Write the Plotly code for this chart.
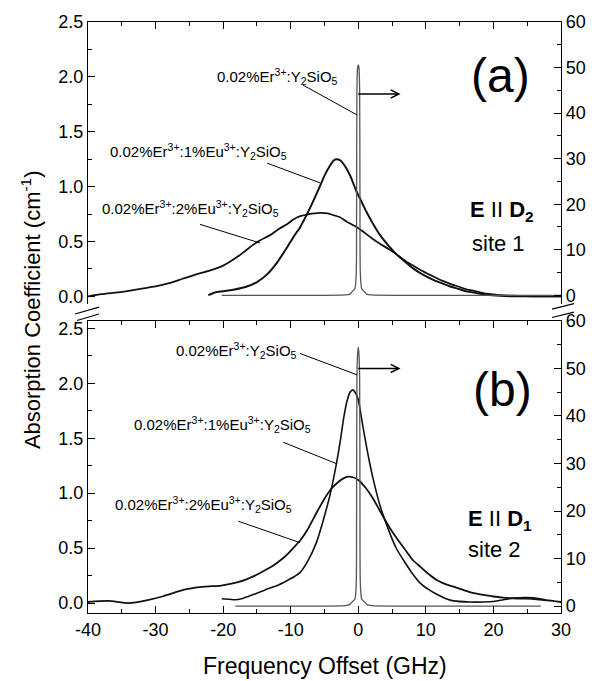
import plotly.graph_objects as go

# ---------------- data ----------------
# frequency offset (GHz) / absorption coefficient (cm^-1) for the Eu co-doped samples,
# narrow-line 0.02%Er:Y2SiO5 reference plotted against the right-hand axis.

# panel (a): E || D2, site 1
a_er_x = [-20.2, -15, -10, -5, -2, -1.3, -0.9, -0.5, -0.3, -0.25, -0.2, -0.1, 0, 0.1, 0.2, 0.25, 0.3, 0.5, 0.9, 1.3, 2, 5, 10, 15, 20, 25, 30]
a_er_y = [0, 0, 0, 0, 0.1, 0.2, 0.8, 1.5, 5, 20, 45, 50, 50.6, 50, 45, 20, 5, 1.5, 0.8, 0.2, 0.1, 0, 0, 0, 0, 0, 0]

a_eu1_x = [-22.2, -21, -19.5, -18.5, -16.5, -15, -13.5, -12, -10.5, -9.5, -8.6, -7.5, -6.5, -5.7, -5, -4.2, -3.6, -3.2, -2.7, -2, -1.2, -0.3, 0.5, 1.2, 2.2, 3.2, 4.5, 5.7, 7, 8.1, 9.5, 11.1, 12.5, 13.6, 15, 16, 17.5, 19, 21, 23, 26, 30]
a_eu1_y = [0.01, 0.04, 0.05, 0.06, 0.09, 0.13, 0.2, 0.31, 0.45, 0.55, 0.63, 0.76, 0.89, 1.0, 1.1, 1.19, 1.24, 1.25, 1.24, 1.19, 1.1, 0.96, 0.86, 0.77, 0.66, 0.56, 0.46, 0.38, 0.31, 0.255, 0.2, 0.15, 0.115, 0.09, 0.065, 0.045, 0.03, 0.015, 0.005, 0.0, 0.0, 0.0]

a_eu2_x = [-40, -38, -35, -32, -30, -28, -26, -24, -22, -21, -20, -19, -18, -17, -16, -14.5, -13, -11.6, -10.5, -9.6, -8.6, -7.6, -6.5, -5.7, -4.5, -3.7, -2.7, -1.7, -0.5, 0.7, 2, 3.2, 4.5, 5.7, 7, 8.1, 9.5, 11.1, 12.5, 13.6, 15, 16, 17.5, 18.5, 20, 21, 23, 26, 30]
a_eu2_y = [0.0, 0.02, 0.04, 0.07, 0.09, 0.12, 0.16, 0.20, 0.235, 0.255, 0.28, 0.315, 0.355, 0.40, 0.45, 0.51, 0.56, 0.62, 0.66, 0.70, 0.73, 0.745, 0.755, 0.76, 0.755, 0.74, 0.72, 0.68, 0.64, 0.59, 0.53, 0.48, 0.43, 0.38, 0.32, 0.28, 0.23, 0.18, 0.14, 0.114, 0.085, 0.063, 0.045, 0.03, 0.018, 0.01, 0.005, 0.0, 0.0]

# panel (b): E || D1, site 2
b_er_x = [-18.2, -15, -10, -5, -2, -1.3, -0.9, -0.5, -0.3, -0.25, -0.2, -0.1, 0, 0.1, 0.2, 0.25, 0.3, 0.5, 0.9, 1.3, 2, 5, 10, 15, 20, 25, 27]
b_er_y = [0, 0, 0, 0, 0.1, 0.3, 0.9, 1.5, 5, 20, 48, 53, 54.5, 53, 48, 20, 5, 1.5, 0.9, 0.3, 0.1, 0, 0, 0, 0, 0, 0]

b_eu1_x = [-20.2, -19, -18.3, -17, -16.3, -15, -13.8, -12, -10.4, -9.5, -8.6, -7.5, -6.2, -5.2, -4.2, -3.2, -2.6, -2.2, -1.7, -1.2, -0.8, -0.4, 0, 0.25, 0.7, 1.2, 1.7, 2.2, 3.2, 4.7, 5.7, 6.7, 8, 9.2, 10.5, 11.6, 13, 14.1, 16.5, 18.5, 20, 21.5, 22.9, 24.9, 26.9, 27.7]
b_eu1_y = [0.04, 0.035, 0.03, 0.045, 0.06, 0.09, 0.12, 0.16, 0.21, 0.24, 0.28, 0.38, 0.55, 0.75, 0.98, 1.28, 1.5, 1.67, 1.83, 1.92, 1.94, 1.91, 1.85, 1.77, 1.6, 1.43, 1.27, 1.13, 0.89, 0.63, 0.49, 0.39, 0.27, 0.18, 0.12, 0.08, 0.04, 0.02, 0.01, 0.01, 0.015, 0.03, 0.045, 0.05, 0.04, 0.03]

b_eu2_x = [-40, -37, -34, -31, -29, -28, -26.5, -25.2, -22.7, -20.3, -17.8, -15.3, -13.5, -12.4, -11.1, -10.4, -9.5, -8.6, -7.5, -6.2, -5, -4, -3, -2.2, -1.5, -0.8, 0, 1.2, 2.2, 3.2, 4.5, 5.7, 7, 8.1, 9.2, 10.5, 11.6, 13, 14.1, 15.5, 16.5, 18, 19, 20, 21.4, 22.5, 23.9, 25, 26.4, 28.8, 30]
b_eu2_y = [0.01, 0.02, 0.0, 0.03, 0.06, 0.08, 0.11, 0.13, 0.15, 0.16, 0.19, 0.25, 0.31, 0.35, 0.41, 0.45, 0.51, 0.57, 0.67, 0.82, 0.95, 1.04, 1.10, 1.135, 1.15, 1.145, 1.12, 1.04, 0.95, 0.84, 0.70, 0.59, 0.48, 0.39, 0.33, 0.26, 0.21, 0.17, 0.15, 0.12, 0.10, 0.08, 0.07, 0.06, 0.05, 0.045, 0.04, 0.04, 0.035, 0.02, 0.01]

# tick values and labels
x_ticks = [-40, -30, -20, -10, 0, 10, 20, 30]
x_tick_labels = ["-40", "-30", "-20", "-10", "0", "10", "20", "30"]

# arrow levels on the right-hand axis, pointing to the scale of the narrow line
a_arrow_level = 44.2
b_arrow_level = 50.0

FONT = "Liberation Sans, Arial, sans-serif"
BLACK = "#000000"

fig = go.Figure()

def add_curve(x, y, xa, ya, width=1.8, color="#111111"):
    fig.add_trace(go.Scatter(x=x, y=y, xaxis=xa, yaxis=ya, mode="lines",
                             line=dict(color=color, width=width, shape="spline", smoothing=0.6),
                             showlegend=False, hoverinfo="skip"))

add_curve(a_eu2_x, a_eu2_y, "x", "y")
add_curve(a_eu1_x, a_eu1_y, "x", "y", width=2.0)
add_curve(a_er_x, a_er_y, "x", "y3", width=1.3, color="#555555")
add_curve(b_eu2_x, b_eu2_y, "x2", "y2")
add_curve(b_eu1_x, b_eu1_y, "x2", "y2", width=1.6)
add_curve(b_er_x, b_er_y, "x2", "y4", width=1.3, color="#555555")

tickfont = dict(family=FONT, size=18, color=BLACK)
common_x = dict(range=[-40, 30], tickmode="array", tickvals=x_ticks, ticktext=x_tick_labels,
                ticks="inside", ticklen=7, tickwidth=1.2,
                tickcolor=BLACK, showline=True, linecolor=BLACK, linewidth=1.3, showgrid=False,
                zeroline=False, tickfont=tickfont,
                minor=dict(tickmode="linear", tick0=0, dtick=5, ticks="inside", ticklen=4,
                           tickcolor=BLACK, showgrid=False))
common_yl = dict(dtick=0.5, tick0=0, tickformat=".1f", ticks="inside", ticklen=7, tickwidth=1.2,
                 tickcolor=BLACK, showline=True, linecolor=BLACK, linewidth=1.3, showgrid=False,
                 zeroline=False, tickfont=tickfont,
                 minor=dict(dtick=0.25, ticks="inside", ticklen=4, tickcolor=BLACK, showgrid=False))
common_yr = dict(dtick=10, tick0=0, ticks="inside", ticklen=7, tickwidth=1.2, tickcolor=BLACK,
                 showline=True, linecolor=BLACK, linewidth=1.3, showgrid=False, zeroline=False,
                 tickfont=tickfont, side="right",
                 minor=dict(dtick=5, ticks="inside", ticklen=4, tickcolor=BLACK, showgrid=False))

top_dom = [0.5225, 1.0]
bot_dom = [0.0, 0.4942]

fig.update_layout(
    width=608, height=681,
    margin=dict(l=88, r=47, t=14, b=68),
    paper_bgcolor="white", plot_bgcolor="white",
    font=dict(family=FONT, color=BLACK),
    xaxis=dict(common_x, domain=[0, 1], anchor="y", side="top", showticklabels=False),
    yaxis=dict(common_yl, domain=top_dom, range=[-0.072, 2.5], anchor="x"),
    yaxis3=dict(common_yr, range=[-1.95, 60], overlaying="y", anchor="x"),
    xaxis2=dict(common_x, domain=[0, 1], anchor="y2", mirror="ticks"),
    yaxis2=dict(common_yl, domain=bot_dom, range=[-0.09, 2.567], anchor="x2"),
    yaxis4=dict(common_yr, range=[-1.45, 60], overlaying="y2", anchor="x2"),
)

# axis titles
fig.add_annotation(text="Frequency Offset (GHz)", xref="paper", yref="paper", x=0.5, y=-0.09,
                   showarrow=False, font=dict(family=FONT, size=23), xanchor="center", yanchor="middle")
fig.add_annotation(text="Absorption Coefficient (cm<sup>-1</sup>)", xref="paper", yref="paper",
                   x=-0.1205, y=0.5125, textangle=-90, showarrow=False,
                   font=dict(family=FONT, size=22), xanchor="center", yanchor="middle")

lab_font = dict(family=FONT, size=15, color=BLACK)
er_txt = "0.02%Er<sup>3+</sup>:Y<sub>2</sub>SiO<sub>5</sub>"
eu1_txt = "0.02%Er<sup>3+</sup>:1%Eu<sup>3+</sup>:Y<sub>2</sub>SiO<sub>5</sub>"
eu2_txt = "0.02%Er<sup>3+</sup>:2%Eu<sup>3+</sup>:Y<sub>2</sub>SiO<sub>5</sub>"

def label(text, x, y, xr, yr, font=None):
    fig.add_annotation(text=text, x=x, y=y, xref=xr, yref=yr, showarrow=False,
                       font=font or lab_font, xanchor="center", yanchor="middle")

def leader(x0, y0, x1, y1, xr, yr):
    fig.add_shape(type="line", x0=x0, y0=y0, x1=x1, y1=y1, xref=xr, yref=yr,
                  line=dict(color=BLACK, width=1))

# panel (a) labels
label(er_txt, -11.96, 2.005, "x", "y")
leader(-8.18, 1.925, -0.15, 1.652, "x", "y")
label(eu1_txt, -23.58, 1.322, "x", "y")
leader(-13.51, 1.214, -5.67, 1.034, "x", "y")
label(eu2_txt, -24.83, 0.80, "x", "y")
leader(-23.43, 0.656, -14.55, 0.486, "x", "y")

# panel (b) labels
label(er_txt, -18.07, 2.298, "x2", "y2")
leader(-8.63, 2.271, -0.15, 2.076, "x2", "y2")
label(eu1_txt, -20.1, 1.627, "x2", "y2")
leader(-11.1, 1.463, -3.2, 1.268, "x2", "y2")
label(eu2_txt, -22.84, 0.898, "x2", "y2")
leader(-17.76, 0.745, -8.63, 0.55, "x2", "y2")

# panel tags and polarisation/site notes
big = dict(family=FONT, size=48, color=BLACK)
note = dict(family=FONT, size=22, color=BLACK)
label("(a)", 21.1, 2.014, "x", "y", font=big)
label("(b)", 21.4, 1.939, "x2", "y2", font=big)
label("<b>E</b> II <b>D</b><sub><b>2</b></sub>", 21.27, 0.773, "x", "y", font=note)
label("site 1", 20.8, 0.477, "x", "y", font=note)
label("<b>E</b> II <b>D</b><sub><b>1</b></sub>", 20.97, 0.754, "x2", "y2", font=note)
label("site 2", 20.2, 0.485, "x2", "y2", font=note)

# arrows pointing at the right-hand scale
def arrow(level, yr, dy):
    xr = "x" if yr == "y3" else "x2"
    fig.add_shape(type="path", path=f"M 0,{level} L 6,{level}", xref=xr,
                  yref=yr, line=dict(color=BLACK, width=1.5))
    fig.add_shape(type="path",
                  path=f"M 4.8,{level + dy} L 6,{level} L 4.8,{level - dy}",
                  xref=xr, yref=yr, line=dict(color=BLACK, width=1.5))

arrow(a_arrow_level, "y3", 0.9)
arrow(b_arrow_level, "y4", 0.85)

# axis-break marks between the panels (paper coordinates)
def px(xp, yp):
    return (xp - 88) / 473, (613 - yp) / 599

for (xa, ya, xb, yb) in [(75, 310, 99, 303), (77, 316.5, 99, 310),
                         (552, 305, 574, 299.5), (552, 313.5, 574, 308)]:
    p0 = px(xa, ya)
    p1 = px(xb, yb)
    fig.add_shape(type="line", xref="paper", yref="paper", x0=p0[0], y0=p0[1], x1=p1[0], y1=p1[1],
                  line=dict(color=BLACK, width=1.2))

fig.write_html("out.html")
